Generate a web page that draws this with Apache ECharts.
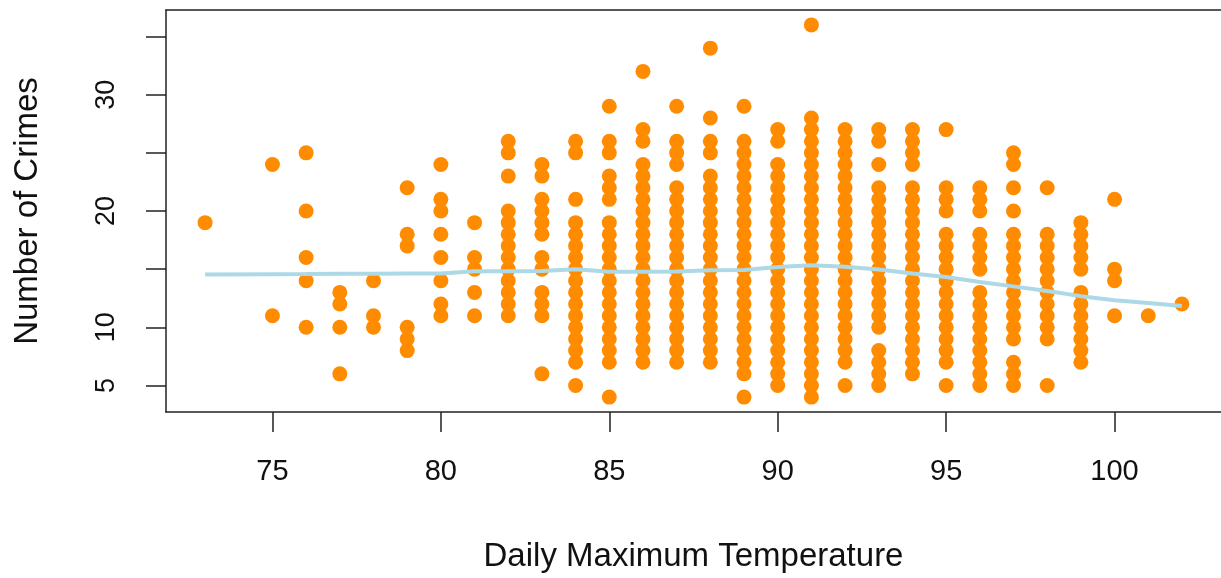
<!DOCTYPE html>
<html>
<head>
<meta charset="utf-8">
<title>Crimes vs Temperature</title>
<script src="https://cdn.jsdelivr.net/npm/echarts@6/dist/echarts.min.js"></script>
<style>
  html, body { margin: 0; padding: 0; background: #fff; }
  #main { width: 1221px; height: 578px; }
</style>
</head>
<body>
<div id="main"></div>
<script>
// daily max temperature (x) and the crime counts seen at that temperature (y)
var temps = [73, 75, 76, 77, 78, 79, 80, 81, 82, 83, 84, 85, 86, 87, 88, 89, 90,
  91, 92, 93, 94, 95, 96, 97, 98, 99, 100, 101, 102];

var crimes = [
  [19],
  [24, 11],
  [25, 20, 16, 14, 10],
  [13, 12, 10, 6],
  [14, 11, 10],
  [22, 18, 17, 10, 9, 8],
  [24, 21, 20, 18, 16, 14, 12, 11],
  [19, 16, 15, 13, 11],
  [26, 25, 23, 20, 19, 18, 17, 16, 15, 14, 13, 12, 11],
  [24, 23, 21, 20, 19, 18, 16, 15, 13, 12, 11, 6],
  [26, 25, 21, 19, 18, 17, 16, 15, 14, 13, 12, 11, 10, 9, 8, 7, 5],
  [29, 26, 25, 23, 22, 21, 19, 18, 17, 16, 15, 14, 13, 12, 11, 10, 9, 8, 7, 4],
  [32, 27, 26, 24, 23, 22, 21, 20, 19, 18, 17, 16, 15, 14, 13, 12, 11, 10, 9, 8, 7],
  [29, 26, 25, 24, 22, 21, 20, 19, 18, 17, 16, 15, 14, 13, 12, 11, 10, 9, 8, 7],
  [34, 28, 26, 25, 23, 22, 21, 20, 19, 18, 17, 16, 15, 14, 13, 12, 11, 10, 9, 8, 7],
  [29, 26, 25, 24, 23, 22, 21, 20, 19, 18, 17, 16, 15, 14, 13, 12, 11, 10, 9, 8, 7, 6, 4],
  [27, 26, 24, 23, 22, 21, 20, 19, 18, 17, 16, 15, 14, 13, 12, 11, 10, 9, 8, 7, 6, 5],
  [36, 28, 27, 26, 25, 24, 23, 22, 21, 20, 19, 18, 17, 16, 15, 14, 13, 12, 11, 10, 9, 8, 7, 6, 5, 4],
  [27, 26, 25, 24, 23, 22, 21, 20, 19, 18, 17, 16, 15, 14, 13, 12, 11, 10, 9, 8, 7, 5],
  [27, 26, 24, 22, 21, 20, 19, 18, 17, 16, 15, 14, 13, 12, 11, 10, 8, 7, 6, 5],
  [27, 26, 25, 24, 22, 21, 20, 19, 18, 17, 16, 15, 14, 13, 12, 11, 10, 9, 8, 7, 6],
  [27, 22, 21, 20, 18, 17, 16, 15, 14, 13, 12, 11, 10, 9, 8, 7, 5],
  [22, 21, 20, 18, 17, 16, 15, 13, 12, 11, 10, 9, 8, 7, 6, 5],
  [25, 24, 22, 20, 18, 17, 16, 15, 14, 13, 12, 11, 10, 9, 7, 6, 5],
  [22, 18, 17, 16, 15, 14, 13, 12, 11, 10, 9, 5],
  [19, 18, 17, 16, 15, 13, 12, 11, 10, 9, 8, 7],
  [21, 15, 14, 11],
  [11],
  [12]
];

// lowess smooth, one value per temperature
var smoothY = [14.55, 14.57, 14.58, 14.6, 14.6, 14.62, 14.63, 14.83, 14.83, 14.85,
  15.0, 14.77, 14.77, 14.8, 14.91, 14.93, 15.18, 15.34, 15.2, 14.97,
  14.63, 14.33, 13.9, 13.52, 13.12, 12.68, 12.33, 12.1, 11.84];

// tick labels
var xTicks = [75, 80, 85, 90, 95, 100];
var yTicks = [5, 10, 15, 20, 25, 30, 35];
var yLabels = [5, 10, 20, 30];

var points = [];
for (var i = 0; i < temps.length; i++) {
  for (var j = 0; j < crimes[i].length; j++) {
    points.push([temps[i], crimes[i][j]]);
  }
}
var smooth = [];
for (var k = 0; k < temps.length; k++) {
  smooth.push([temps[k], smoothY[k]]);
}

var font = '"Liberation Sans", Arial, sans-serif';
var boxLine = { color: '#222', width: 1.5 };
var chart = echarts.init(document.getElementById('main'));

var option = {
  animation: false,
  backgroundColor: '#fff',
  grid: {
    left: 166,
    top: 10,
    width: 1061,
    height: 403
  },
  xAxis: [{
    type: 'value',
    min: 71.84,
    max: 103.16,
    name: 'Daily Maximum Temperature',
    nameLocation: 'middle',
    nameGap: 128,
    nameTextStyle: { fontFamily: font, fontSize: 33, color: '#111' },
    axisLine: { show: true, onZero: false, lineStyle: boxLine },
    splitLine: { show: false },
    axisTick: {
      show: true,
      customValues: xTicks,
      length: 20,
      lineStyle: boxLine
    },
    axisLabel: {
      customValues: xTicks,
      margin: 45,
      fontFamily: font,
      fontSize: 29,
      color: '#111'
    }
  }, {
    // top edge of the plot box
    type: 'value',
    position: 'top',
    min: 71.84,
    max: 103.16,
    axisLine: { show: true, onZero: false, lineStyle: boxLine },
    axisTick: { show: false },
    axisLabel: { show: false },
    splitLine: { show: false }
  }],
  yAxis: {
    type: 'value',
    min: 2.72,
    max: 37.28,
    name: 'Number of Crimes',
    nameLocation: 'middle',
    nameGap: 122,
    nameRotate: 90,
    nameTextStyle: { fontFamily: font, fontSize: 33, color: '#111' },
    axisLine: { show: true, onZero: false, lineStyle: boxLine },
    splitLine: { show: false },
    axisTick: {
      show: true,
      customValues: yTicks,
      length: 20,
      lineStyle: boxLine
    },
    axisLabel: {
      customValues: yLabels,
      rotate: 90,
      margin: 46,
      fontFamily: font,
      fontSize: 27,
      color: '#111'
    }
  },
  series: [
    {
      type: 'scatter',
      data: points,
      symbol: 'circle',
      symbolSize: 15,
      itemStyle: { color: '#FF8C00', opacity: 1 },
      z: 2
    },
    {
      type: 'line',
      data: smooth,
      showSymbol: false,
      symbol: 'none',
      lineStyle: { color: '#ADD8E6', width: 4 },
      z: 3
    }
  ]
};

chart.setOption(option);
</script>
</body>
</html>
